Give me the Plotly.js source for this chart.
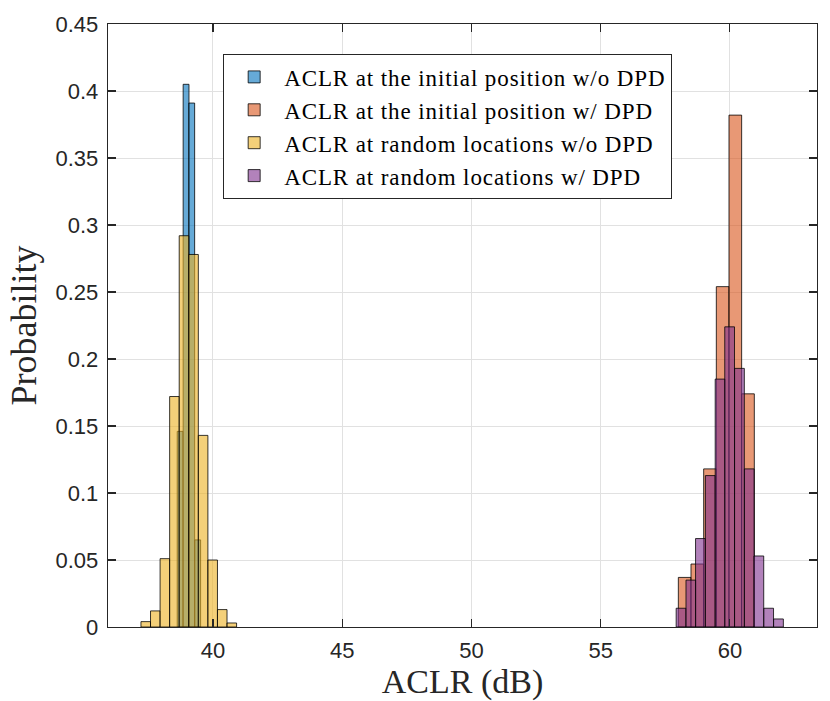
<!DOCTYPE html>
<html>
<head>
<meta charset="utf-8">
<script src="https://cdn.plot.ly/plotly-3.0.1.min.js"></script>
<style>
  html, body { margin: 0; padding: 0; background: #fff; }
  #plot { width: 830px; height: 701px; }
  .legendtext { letter-spacing: 0.9px; }
</style>
</head>
<body>
<div id="plot"></div>
<script>
// bin centres (dB) and probabilities
var blueX = [38.73, 38.96, 39.18, 39.41];
var blueY = [0.146, 0.405, 0.391, 0.065];

var orangeX = [58.25, 58.74, 59.23, 59.72, 60.21, 60.70];
var orangeY = [0.037, 0.047, 0.118, 0.254, 0.382, 0.174];

var yellowX = [37.40, 37.77, 38.14, 38.51, 38.88, 39.25, 39.62, 39.99, 40.36, 40.73];
var yellowY = [0.004, 0.012, 0.051, 0.172, 0.292, 0.278, 0.143, 0.050, 0.013, 0.003];

var purpleX = [58.11, 58.49, 58.86, 59.24, 59.62, 59.99, 60.37, 60.75, 61.12, 61.50, 61.88];
var purpleY = [0.014, 0.035, 0.066, 0.113, 0.185, 0.224, 0.193, 0.118, 0.053, 0.014, 0.006];

var names = [
  "ACLR at the initial position w/o DPD",
  "ACLR at the initial position w/ DPD",
  "ACLR at random locations w/o DPD",
  "ACLR at random locations w/ DPD"
];

var yTicks = [0, 0.05, 0.1, 0.15, 0.2, 0.25, 0.3, 0.35, 0.4, 0.45];
var yTickText = ["0", "0.05", "0.1", "0.15", "0.2", "0.25", "0.3", "0.35", "0.4", "0.45"];
var xTicks = [40, 45, 50, 55, 60];

function hist(x, y, w, name, rgb) {
  return {
    type: "bar",
    x: x,
    y: y,
    width: w,
    name: name,
    marker: {
      color: "rgba(" + rgb + ",0.6)",
      line: { color: "rgba(0,0,0,0.78)", width: 1 }
    },
    hoverinfo: "x+y"
  };
}

var traces = [
  hist(blueX, blueY, 0.225, names[0], "0,114,189"),
  hist(orangeX, orangeY, 0.49, names[1], "217,83,25"),
  hist(yellowX, yellowY, 0.37, names[2], "237,177,32"),
  hist(purpleX, purpleY, 0.377, names[3], "126,47,142")
];

var axisCommon = {
  showline: true,
  linecolor: "#262626",
  linewidth: 1.3,
  mirror: "ticks",
  ticks: "inside",
  ticklen: 8,
  tickcolor: "#262626",
  tickwidth: 1.2,
  showgrid: true,
  gridcolor: "#e1e1e1",
  gridwidth: 1,
  zeroline: false,
  tickfont: { family: "Liberation Sans, Arial, sans-serif", size: 22, color: "#262626" },
  automargin: false
};

var layout = {
  width: 830,
  height: 701,
  margin: { l: 108, r: 13, t: 24, b: 74 },
  paper_bgcolor: "#fff",
  plot_bgcolor: "#fff",
  barmode: "overlay",
  bargap: 0,
  xaxis: Object.assign({}, axisCommon, {
    range: [35.94, 63.37],
    tickvals: xTicks,
    ticklabelstandoff: 3,
    title: {
      text: "ACLR (dB)",
      font: { family: "Liberation Serif, serif", size: 34, color: "#262626" },
      standoff: 9
    }
  }),
  yaxis: Object.assign({}, axisCommon, {
    range: [0, 0.45],
    tickvals: yTicks,
    ticktext: yTickText,
    ticklabelstandoff: 4,
    title: {
      text: "Probability",
      font: { family: "Liberation Serif, serif", size: 36, color: "#262626" },
      standoff: 8
    }
  }),
  showlegend: true,
  legend: {
    x: 0.162,
    y: 0.95,
    xanchor: "left",
    yanchor: "top",
    bgcolor: "#fff",
    bordercolor: "#262626",
    borderwidth: 1.3,
    font: { family: "Liberation Serif, serif", size: 23, color: "#000" },
    traceorder: "normal",
    itemwidth: 50
  }
};

Plotly.newPlot("plot", traces, layout, { displayModeBar: false, staticPlot: true });
</script>
</body>
</html>
